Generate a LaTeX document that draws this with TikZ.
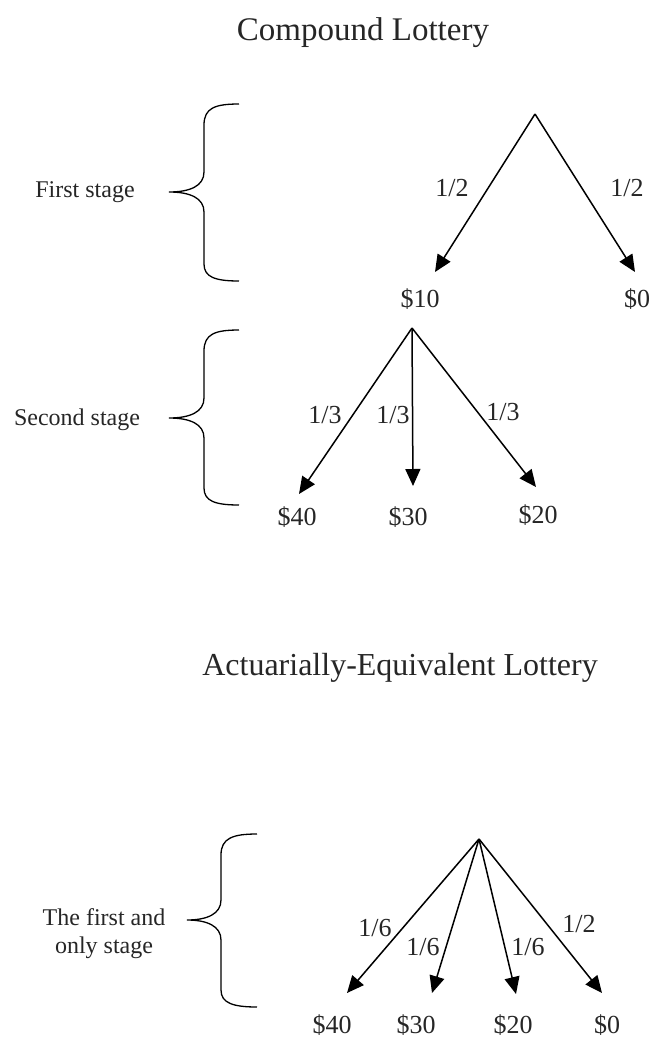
\documentclass[tikz,border=0pt]{standalone}
\usepackage{fontspec}
\setmainfont{Liberation Serif}
\usetikzlibrary{arrows.meta}
\tikzset{
  arr/.style={line width=1.5pt, -{Triangle[length=17pt,width=15pt]}},
  bracepath/.style={line width=1.3pt},
  titletxt/.style={anchor=base, inner sep=0pt, font=\fontsize{33}{38}\selectfont, text=black!85},
  stagetxt/.style={anchor=base, inner sep=0pt, font=\fontsize{24}{30}\selectfont, text=black!85, align=center},
  valtxt/.style={anchor=base, inner sep=0pt, font=\fontsize{26}{30}\selectfont, text=black!85},
  probtxt/.style={anchor=base, inner sep=0pt, font=\fontsize{26}{30}\selectfont, text=black!85},
}
\begin{document}
\begin{tikzpicture}[x=1pt,y=-1pt]
\useasboundingbox (0,0) rectangle (658,1042);

% Titles
\node[titletxt] (title1) at (363,40) {Compound Lottery};
\node[titletxt, font=\fontsize{32}{38}\selectfont] (title2) at (400,675) {Actuarially-Equivalent Lottery};

% Stage labels
\node[stagetxt] (st1) at (85,197) {First stage};
\node[stagetxt] (st2) at (77,425) {Second stage};
\node[stagetxt] (st3a) at (104,925) {The first and};
\node[stagetxt] (st3b) at (104,953) {only stage};

% Braces
\draw[bracepath] (239,104) .. controls (215,104) and (204,108) .. (204,125) -- (204,172)
  .. controls (204,186) and (190,192) .. (169,192)
  .. controls (190,192) and (204,198) .. (204,212) -- (204,264)
  .. controls (204,277) and (215,281) .. (239,281);
\draw[bracepath] (239,330) .. controls (215,330) and (204,334) .. (204,351) -- (204,398)
  .. controls (204,412) and (190,418) .. (169,418)
  .. controls (190,418) and (204,424) .. (204,438) -- (204,488)
  .. controls (204,501) and (215,505) .. (239,505);
\draw[bracepath] (257,834) .. controls (233,834) and (221,838) .. (221,855) -- (221,900)
  .. controls (221,914) and (207,920) .. (187,920)
  .. controls (207,920) and (221,926) .. (221,940) -- (221,990)
  .. controls (221,1003) and (233,1007) .. (257,1007);

% Tree 1
\coordinate (a1) at (535,114);
\coordinate (t11) at (435,272);
\coordinate (t12) at (635,272);
\draw[arr] (a1) -- (t11);
\draw[arr] (a1) -- (t12);
\node[probtxt] (p11) at (452,196) {1/2};
\node[probtxt] (p12) at (627,196) {1/2};
\node[valtxt] (v11) at (420,307) {\$10};
\node[valtxt] (v12) at (637,307) {\$0};

% Tree 2
\coordinate (a2) at (412,328);
\coordinate (t21) at (299,494);
\coordinate (t22) at (413,486);
\coordinate (t23) at (536,487);
\draw[arr] (a2) -- (t21);
\draw[arr] (a2) -- (t22);
\draw[arr] (a2) -- (t23);
\node[probtxt] (p21) at (325,423) {1/3};
\node[probtxt] (p22) at (393,423) {1/3};
\node[probtxt] (p23) at (503,420) {1/3};
\node[valtxt] (v21) at (297,525) {\$40};
\node[valtxt] (v22) at (408,525) {\$30};
\node[valtxt] (v23) at (538,523) {\$20};

% Tree 3
\coordinate (a3) at (479,839);
\coordinate (t31) at (347,993);
\coordinate (t32) at (432,993);
\coordinate (t33) at (516,994);
\coordinate (t34) at (602,993);
\draw[arr] (a3) -- (t31);
\draw[arr] (a3) -- (t32);
\draw[arr] (a3) -- (t33);
\draw[arr] (a3) -- (t34);
\node[probtxt] (p31) at (375,936) {1/6};
\node[probtxt] (p32) at (423,955) {1/6};
\node[probtxt] (p33) at (528,955) {1/6};
\node[probtxt] (p34) at (579,932) {1/2};
\node[valtxt] (v31) at (332,1033) {\$40};
\node[valtxt] (v32) at (416,1033) {\$30};
\node[valtxt] (v33) at (513,1033) {\$20};
\node[valtxt] (v34) at (607,1033) {\$0};
\end{tikzpicture}
\end{document}
